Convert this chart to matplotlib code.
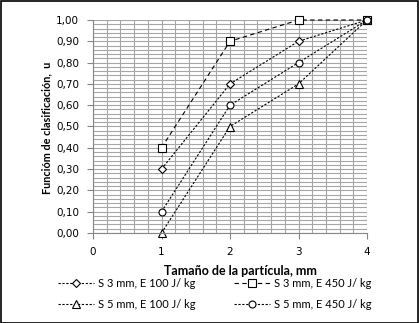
import numpy as np
import matplotlib
matplotlib.use('Agg')
import matplotlib.pyplot as plt
from matplotlib.ticker import MultipleLocator, FuncFormatter

# particle size, mm
sizes = [1, 2, 3, 4]
# classification function u for each test
s3_e100 = [0.30, 0.70, 0.90, 1.00]
s3_e450 = [0.40, 0.90, 1.00, 1.00]
s5_e100 = [0.00, 0.50, 0.70, 1.00]
s5_e450 = [0.10, 0.60, 0.80, 1.00]
labels = ['S 3 mm, E 100 J/ kg', 'S 3 mm, E 450 J/ kg',
          'S 5 mm, E 100 J/ kg', 'S 5 mm, E 450 J/ kg']

text_font = ['Lato', 'DejaVu Sans']
tick_font = ['DejaVu Sans']

fig = plt.figure(figsize=(4.19, 3.23), dpi=100)
ax = fig.add_axes([93 / 419, 1 - 233 / 323, (367 - 93) / 419, (233 - 20) / 323])

mk = dict(markerfacecolor='white', markeredgecolor='black', markeredgewidth=0.8, color='black', lw=0.8)
h1, = ax.plot(sizes, s3_e100, marker='D', markersize=4, dashes=(2, 1.5), label=labels[0], **mk)
h2, = ax.plot(sizes, s3_e450, marker='s', markersize=5.5, dashes=(4, 3), label=labels[1], **mk)
h3, = ax.plot(sizes, s5_e100, marker='^', markersize=5.5, dashes=(2, 1.5), label=labels[2], **mk)
h4, = ax.plot(sizes, s5_e450, marker='o', markersize=5, dashes=(2, 1.5), label=labels[3], **mk)
for h in (h1, h2, h3, h4):
    h.set_clip_on(False)

ax.set_xlim(0, 4)
ax.set_ylim(0, 1)
ax.xaxis.set_major_locator(MultipleLocator(1))
ax.xaxis.set_minor_locator(MultipleLocator(0.2))
ax.yaxis.set_major_locator(MultipleLocator(0.1))
ax.yaxis.set_minor_locator(MultipleLocator(0.02))
ax.yaxis.set_major_formatter(FuncFormatter(lambda v, p: f'{v:.2f}'.replace('.', ',')))
ax.grid(True, which='both', color='#a6a6a6', lw=0.8)
ax.set_axisbelow(True)
ax.tick_params(which='minor', length=0)
ax.tick_params(which='major', length=4, color='#868686', width=0.8, labelsize=7.5, pad=6)
for lab in ax.get_xticklabels() + ax.get_yticklabels():
    lab.set_family(tick_font)
for side in ('top', 'right'):
    ax.spines[side].set_visible(False)
for side in ('left', 'bottom'):
    ax.spines[side].set_color('#868686')
    ax.spines[side].set_linewidth(0.8)

fig.text(240 / 419, 1 - 271 / 323, 'Tamaño de la partícula, mm', ha='center', va='center',
         fontsize=9, fontweight='bold', family=text_font)
fig.text(47 / 419, 1 - 128 / 323, 'Funcióm de clasificación,  u', ha='center', va='center',
         rotation=90, fontsize=7.8, fontweight='bold', family=text_font)

fig.legend(handles=[h1, h3, h2, h4], ncol=2, loc='center', bbox_to_anchor=(215 / 419, 1 - 294 / 323),
           frameon=False, prop={'family': text_font, 'size': 8}, handlelength=3.2,
           columnspacing=3.5, labelspacing=0.9, handletextpad=0.4)

fig.patches.append(plt.Rectangle((0.5 / 419, 0.5 / 323), 1 - 1.5 / 419, 1 - 1.5 / 323,
                                 transform=fig.transFigure, fill=False, ec='black', lw=1.2))

fig.savefig('out.png', dpi=100)
